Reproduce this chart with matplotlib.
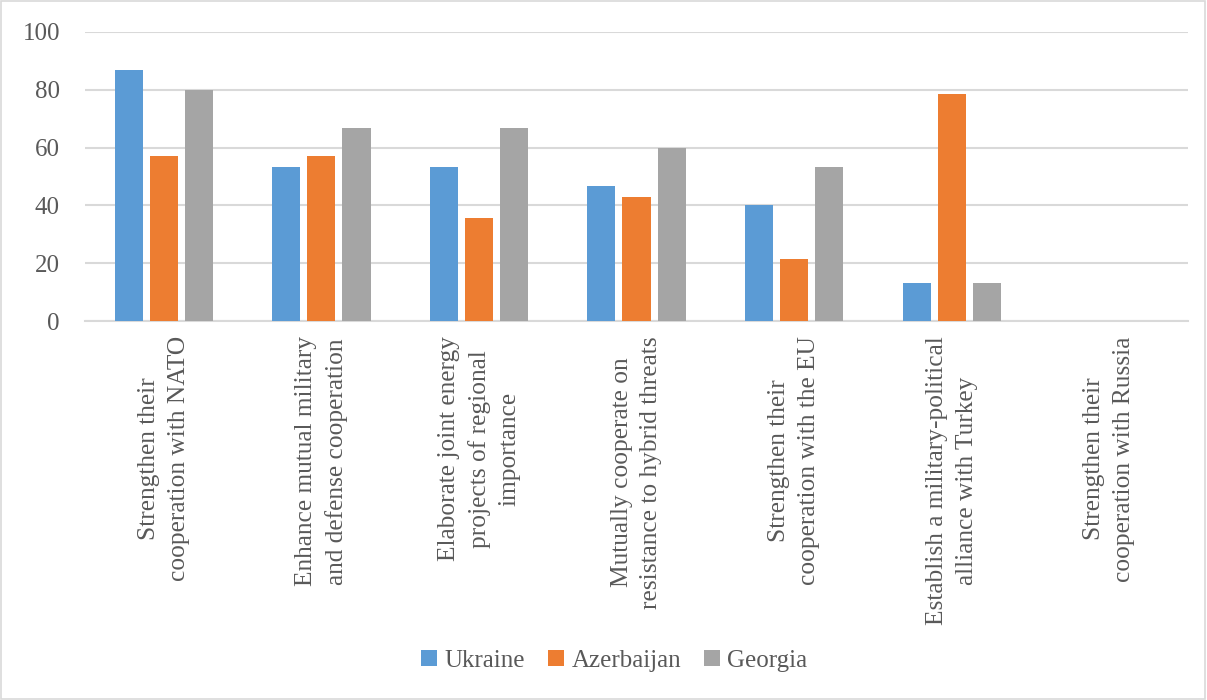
import numpy as np
import matplotlib
matplotlib.use("Agg")
import matplotlib.pyplot as plt
from matplotlib.patches import Rectangle

categories = [
    "Strengthen their\ncooperation with NATO",
    "Enhance mutual military\nand defense cooperation",
    "Elaborate joint energy\nprojects of regional\nimportance",
    "Mutually cooperate on\nresistance to hybrid threats",
    "Strengthen their\ncooperation with the EU",
    "Establish a military-political\nalliance with Turkey",
    "Strengthen their\ncooperation with Russia",
]
ukraine = [86.7, 53.3, 53.3, 46.7, 40.0, 13.3, 0]
azerbaijan = [57.1, 57.1, 35.7, 42.9, 21.4, 78.6, 0]
georgia = [80.0, 66.7, 66.7, 60.0, 53.3, 13.3, 0]
series_names = ["Ukraine", "Azerbaijan", "Georgia"]
colors = ["#5B9BD5", "#ED7D31", "#A5A5A5"]

plt.rcParams['font.family'] = ['Liberation Serif', 'DejaVu Serif']
text_color = "#595959"
grid_color = "#D9D9D9"

fig = plt.figure(figsize=(12.07, 7.0), dpi=100)
ax = fig.add_axes([0.0704, 0.5414, 0.9139, 0.4129])

x = np.arange(len(categories))
width = 0.178
step = 0.223
for i, (vals, name) in enumerate(zip([ukraine, azerbaijan, georgia], series_names)):
    ax.bar(x + (i - 1) * step, vals, width, color=colors[i], label=name, zorder=3)

ax.set_xlim(-0.5, len(categories) - 0.5)
ax.set_ylim(0, 100)
ax.set_yticks(range(0, 101, 20))
ax.yaxis.grid(True, color=grid_color, linewidth=1.5, zorder=0)
for s in ["top", "right", "left"]:
    ax.spines[s].set_visible(False)
ax.spines["bottom"].set_color(grid_color)
ax.spines["bottom"].set_linewidth(1.5)
ax.tick_params(axis="both", length=0, labelsize=18, colors=text_color)
ax.tick_params(axis="y", pad=18)
ax.set_xticks(x)
ax.set_xticklabels(categories, rotation=90, ha="center", va="top",
                   multialignment="center", fontsize=18.3, color=text_color,
                   linespacing=1.45)
ax.tick_params(axis="x", pad=11)

leg = fig.legend(loc="center", bbox_to_anchor=(0.509, 0.056), ncol=3,
                 frameon=False, fontsize=18, handlelength=0.65, handleheight=0.65,
                 handletextpad=0.3, columnspacing=0.9)
for t in leg.get_texts():
    t.set_color(text_color)

fig.patches.append(Rectangle((0.001, 0.002), 0.997, 0.996, transform=fig.transFigure,
                             fill=False, edgecolor=grid_color, linewidth=1.2))

fig.savefig("out.png", dpi=100, facecolor="white")
